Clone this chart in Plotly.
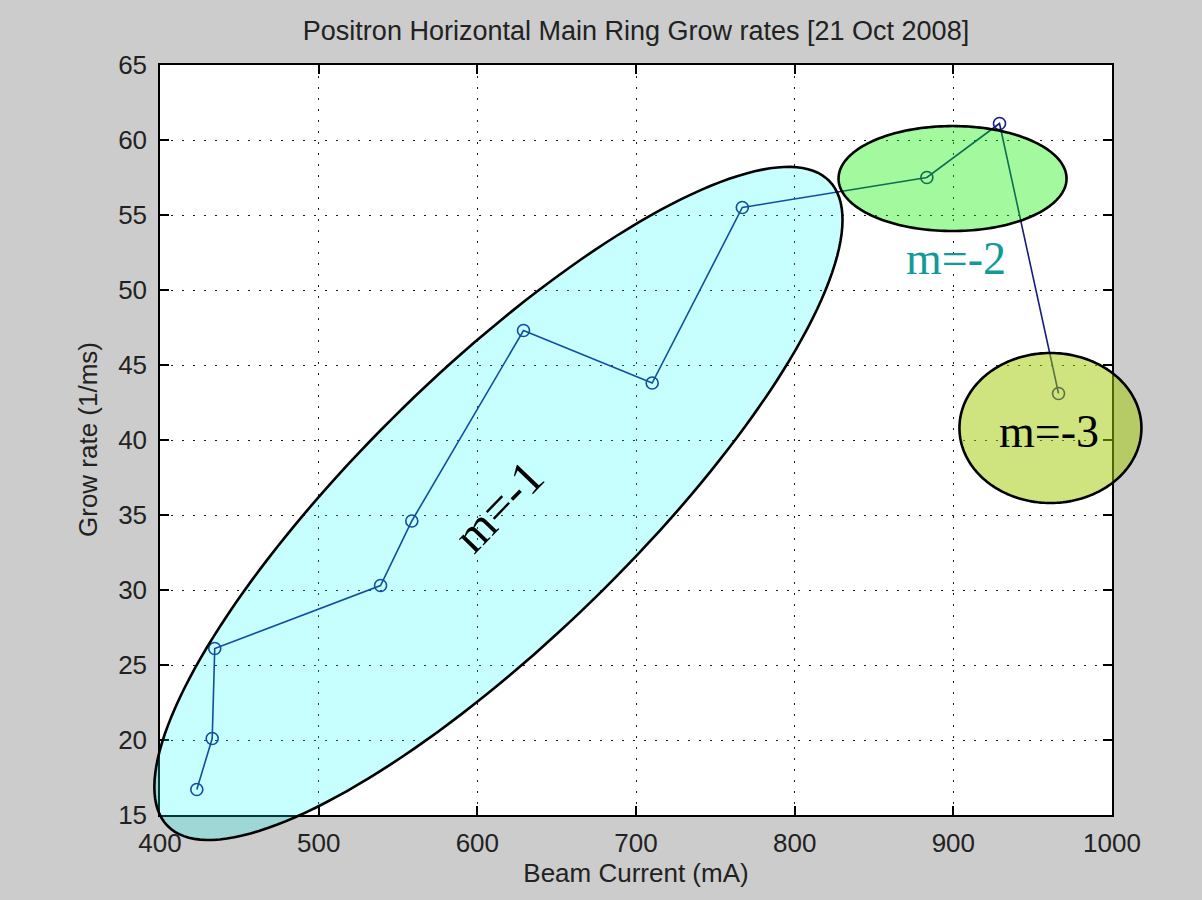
import numpy as np
import plotly.graph_objects as go

# ---------------- data ----------------
beam_current = [423.2, 432.9, 434.5, 539.0, 558.7, 629.1, 710.2, 767.0, 883.3, 929.1, 966.3]
grow_rate = [16.7, 20.1, 26.1, 30.3, 34.6, 47.3, 43.8, 55.5, 57.5, 61.1, 43.1]

x_ticks = [400, 500, 600, 700, 800, 900, 1000]
y_ticks = [15, 20, 25, 30, 35, 40, 45, 50, 55, 60, 65]

title_text = "Positron Horizontal Main Ring Grow rates [21 Oct 2008]"
x_label = "Beam Current (mA)"
y_label = "Grow rate (1/ms)"

mode_labels = ["m=-1", "m=-2", "m=-3"]
mode_label_x = [613.0, 901.5, 960.5]
mode_label_y = [35.6, 52.1, 40.6]
mode_label_angle = [-46, 0, 0]
mode_label_color = ["#000000", "#129a9a", "#000000"]
mode_label_size = [48, 46, 46]

# ellipse centres in data units, semi-axes in screen pixels, rotation in degrees
ell_cx = [613.3, 899.5, 961.2]
ell_cy = [35.77, 57.43, 40.8]
ell_a = [462, 114, 91]
ell_b = [135, 52.5, 75]
ell_rot = [44.25, 0, 0]
ell_fill = ["rgba(0,255,255,0.22)", "rgba(10,240,0,0.38)", "rgba(160,200,0,0.5)"]

# ---------------- geometry ----------------
W, H = 1202, 900
ML, MR, MT, MB = 160, 90, 65, 85
PW, PH = W - ML - MR, H - MT - MB
XMIN, XMAX = 400, 1000
YMIN, YMAX = 15, 65


def ellipse_path(cx, cy, a, b, rot):
    px = ML + (cx - XMIN) / (XMAX - XMIN) * PW
    py = MT + (YMAX - cy) / (YMAX - YMIN) * PH
    th = np.deg2rad(rot)
    t = np.linspace(0, 2 * np.pi, 181)
    ex, ey = a * np.cos(t), b * np.sin(t)
    X = px + ex * np.cos(th) - ey * np.sin(th)
    Y = py - (ex * np.sin(th) + ey * np.cos(th))
    xp = (X - ML) / PW
    yp = (MT + PH - Y) / PH
    pts = [f"{u:.5f},{v:.5f}" for u, v in zip(xp, yp)]
    return "M " + " L ".join(pts) + " Z"


fig = go.Figure()
fig.add_trace(go.Scatter(
    x=beam_current, y=grow_rate, mode="lines+markers",
    line=dict(color="rgb(20,30,130)", width=1.6),
    marker=dict(symbol="circle-open", size=12, color="rgb(20,30,130)", line=dict(width=1.6)),
    showlegend=False, cliponaxis=False,
))

shapes = []
for cx, cy, a, b, r, f in zip(ell_cx, ell_cy, ell_a, ell_b, ell_rot, ell_fill):
    shapes.append(dict(type="path", xref="paper", yref="paper", path=ellipse_path(cx, cy, a, b, r),
                       fillcolor=f, line=dict(color="black", width=2.6), layer="above"))

annotations = []
for t, x, y, ang, c, s in zip(mode_labels, mode_label_x, mode_label_y, mode_label_angle,
                              mode_label_color, mode_label_size):
    annotations.append(dict(text=t, x=x, y=y, xref="x", yref="y", showarrow=False,
                            textangle=ang, font=dict(family="Liberation Serif", size=s, color=c)))

annotations.append(dict(text=y_label, x=(71 - ML) / PW, y=0.5, xref="paper", yref="paper",
                        showarrow=False, textangle=-90,
                        font=dict(family="Liberation Sans", size=26, color="#222")))

axis_common = dict(
    showline=True, linecolor="black", linewidth=1.5, mirror="ticks",
    ticks="inside", ticklen=9, tickcolor="black", tickwidth=1.5,
    showgrid=True, gridcolor="rgba(0,0,0,0.9)", gridwidth=1, griddash="2px,9px",
    zeroline=False, tickfont=dict(family="Liberation Sans", size=26, color="#222"),
)

fig.update_layout(
    width=W, height=H,
    margin=dict(l=ML, r=MR, t=MT, b=MB, pad=0),
    paper_bgcolor="#cccccc", plot_bgcolor="white",
    title=dict(text=title_text, x=(ML + PW / 2) / W, xanchor="center", y=1 - 31 / H, yanchor="middle",
               yref="container", font=dict(family="Liberation Sans", size=27, color="#222")),
    xaxis=dict(range=[XMIN, XMAX], tickvals=x_ticks, ticktext=[str(v) for v in x_ticks],
               title=dict(text=x_label, standoff=4, font=dict(family="Liberation Sans", size=26, color="#222")),
               ticklabelstandoff=4, **axis_common),
    yaxis=dict(range=[YMIN, YMAX], tickvals=y_ticks, ticktext=[str(v) for v in y_ticks],
               ticklabelstandoff=6, **axis_common),
    shapes=shapes, annotations=annotations,
)

fig.write_html("out.html", config={"displayModeBar": False},
               post_script="document.body.style.margin='0';")
